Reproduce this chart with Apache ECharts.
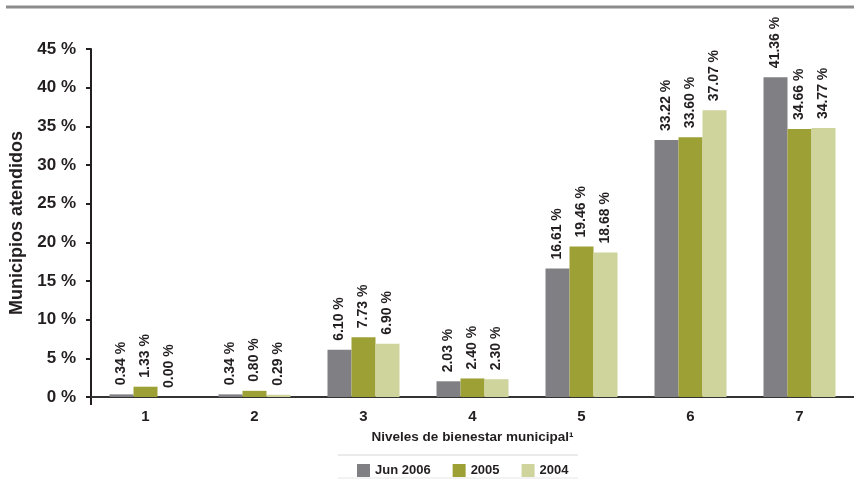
<!DOCTYPE html>
<html>
<head>
<meta charset="utf-8">
<script src="https://cdn.jsdelivr.net/npm/echarts@6/dist/echarts.min.js"></script>
<style>
  html, body { margin: 0; padding: 0; background: #fff; }
  #chart { width: 854px; height: 479px; }
</style>
</head>
<body>
<div id="chart"></div>
<script>
// Levels of municipal wellbeing (x categories)
const niveles = ['1', '2', '3', '4', '5', '6', '7'];

// Share of attended municipalities per level, in percent
const jun2006 = [0.34, 0.34, 6.10, 2.03, 16.61, 33.22, 41.36];
const anio2005 = [1.33, 0.80, 7.73, 2.40, 19.46, 33.60, 34.66];
const anio2004 = [0.00, 0.29, 6.90, 2.30, 18.68, 37.07, 34.77];

// Y axis scale
const yMin = 0;
const yMax = 45;
const yStep = 5;

const FONT = '"Liberation Sans", Arial, sans-serif';
const INK = '#231f20';

const chart = echarts.init(document.getElementById('chart'), null, { renderer: 'canvas' });

function barSeries(name, data, color) {
  return {
    name: name,
    type: 'bar',
    data: data,
    barWidth: 24,
    barGap: '0%',
    itemStyle: { color: color },
    label: {
      show: true,
      position: 'top',
      rotate: 90,
      align: 'left',
      verticalAlign: 'middle',
      distance: 9,
      color: INK,
      fontFamily: FONT,
      fontWeight: 'bold',
      fontSize: 14,
      formatter: p => p.value.toFixed(2) + ' %'
    }
  };
}

chart.setOption({
  animation: false,
  backgroundColor: '#fff',
  grid: { left: 91, top: 49, bottom: 82, width: 770 },
  graphic: [
    { type: 'line', shape: { x1: 6, y1: 7, x2: 854, y2: 7 }, style: { stroke: '#8c8c8c', lineWidth: 3 } },
    { type: 'line', shape: { x1: 91, y1: 397, x2: 91, y2: 405 }, style: { stroke: INK, lineWidth: 2 } },
    { type: 'line', shape: { x1: 338, y1: 455, x2: 578, y2: 455 }, style: { stroke: '#d6d6d6', lineWidth: 1 } },
    { type: 'line', shape: { x1: 338, y1: 478, x2: 578, y2: 478 }, style: { stroke: '#e6e6e6', lineWidth: 1 } }
  ],
  legend: {
    top: 459,
    left: 352,
    itemWidth: 13,
    itemHeight: 13,
    itemGap: 22,
    icon: 'rect',
    textStyle: { color: INK, fontFamily: FONT, fontWeight: 'bold', fontSize: 13 },
    data: ['Jun 2006', '2005', '2004']
  },
  xAxis: {
    type: 'category',
    data: niveles,
    name: 'Niveles de bienestar municipal\u00b9',
    nameLocation: 'middle',
    nameGap: 33,
    nameTextStyle: { color: INK, fontFamily: FONT, fontWeight: 'bold', fontSize: 13.5 },
    axisLine: { lineStyle: { color: '#333', width: 2 } },
    axisTick: { show: false },
    axisLabel: { color: INK, fontFamily: FONT, fontWeight: 'bold', fontSize: 15, margin: 12 }
  },
  yAxis: {
    type: 'value',
    min: yMin,
    max: yMax,
    interval: yStep,
    name: 'Municipios atendidos',
    nameLocation: 'middle',
    nameRotate: 90,
    nameGap: 56,
    nameTextStyle: { color: INK, fontFamily: FONT, fontWeight: 'bold', fontSize: 18 },
    axisLine: { show: true, lineStyle: { color: INK, width: 2 } },
    axisTick: { show: true, length: 5, lineStyle: { color: INK, width: 2 } },
    splitLine: { show: false },
    axisLabel: {
      color: INK, fontFamily: FONT, fontWeight: 'bold', fontSize: 17, margin: 15,
      formatter: '{value} %'
    }
  },
  series: [
    barSeries('Jun 2006', jun2006, '#808084'),
    barSeries('2005', anio2005, '#9da035'),
    barSeries('2004', anio2004, '#cfd39c')
  ]
});
</script>
</body>
</html>
